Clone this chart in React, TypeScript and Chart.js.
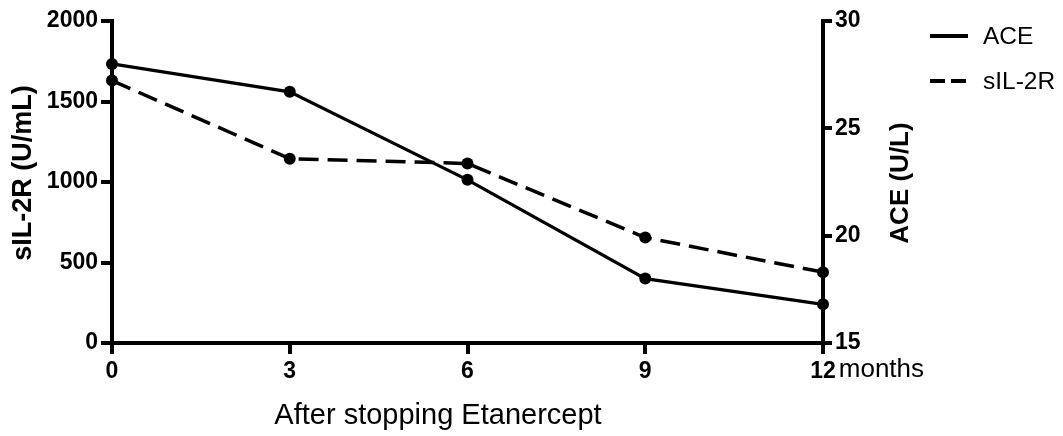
import { useEffect, useRef } from 'react';
import { Chart, registerables } from 'chart.js';

Chart.register(...registerables);

const months = [0, 3, 6, 9, 12];
const aceValues = [28.0, 26.7, 22.6, 18.0, 16.8];
const sil2rValues = [1630, 1145, 1115, 655, 440];
const seriesLabels = ['ACE', 'sIL-2R'];
const xTitle = 'After stopping Etanercept';
const leftTitle = 'sIL-2R (U/mL)';
const rightTitle = 'ACE (U/L)';
const lastTickSuffix = 'months';

const FONT = '"Liberation Sans", Arial, Helvetica, sans-serif';

const extrasPlugin = {
  id: 'extras',
  afterDraw(chart: any) {
    const ctx = chart.ctx;
    const xs = chart.scales.x;

    // axis titles
    ctx.save();
    ctx.fillStyle = '#000';
    ctx.textAlign = 'center';
    ctx.textBaseline = 'middle';
    ctx.font = `bold 26px ${FONT}`;
    ctx.save();
    ctx.translate(901, 183);
    ctx.rotate(-Math.PI / 2);
    ctx.fillText(rightTitle, 0, 0);
    ctx.restore();
    ctx.font = `bold 27px ${FONT}`;
    ctx.save();
    ctx.translate(24, 173);
    ctx.rotate(-Math.PI / 2);
    ctx.fillText(leftTitle, 0, 0);
    ctx.restore();
    ctx.font = `29px ${FONT}`;
    ctx.fillText(xTitle, 438, 416);
    ctx.restore();

    // suffix after the last x tick
    ctx.save();
    ctx.font = `bold 23px ${FONT}`;
    const lastPx = xs.getPixelForValue(months[months.length - 1]);
    const w = ctx.measureText(String(months[months.length - 1])).width;
    ctx.font = `26px ${FONT}`;
    ctx.fillStyle = '#000';
    ctx.textAlign = 'left';
    ctx.textBaseline = 'middle';
    ctx.fillText(lastTickSuffix, lastPx + w / 2 + 3, 370);
    ctx.restore();

    // legend
    ctx.save();
    const items = chart.data.datasets;
    items.forEach((ds: any, i: number) => {
      const y = 36 + i * 45;
      ctx.strokeStyle = '#000';
      ctx.lineWidth = 4;
      ctx.setLineDash(ds.borderDash && ds.borderDash.length ? [15, 6] : []);
      ctx.beginPath();
      ctx.moveTo(930, y);
      ctx.lineTo(968, y);
      ctx.stroke();
      ctx.setLineDash([]);
      ctx.font = `24.5px ${FONT}`;
      ctx.fillStyle = '#000';
      ctx.textAlign = 'left';
      ctx.textBaseline = 'middle';
      ctx.fillText(ds.label, 983, y + 1);
    });
    ctx.restore();
  },
};

export default function App() {
  const ref = useRef<HTMLCanvasElement | null>(null);

  useEffect(() => {
    document.body.style.margin = '0';
    const canvas = ref.current;
    if (!canvas) return;
    const axisGrid = {
      display: true,
      drawOnChartArea: false,
      drawTicks: true,
      tickLength: 11,
      lineWidth: 4,
      color: '#000',
    };
    const border = { display: true, color: '#000', width: 4 };
    const tickFont = { family: FONT, size: 23, weight: 'bold' as const };
    const plain = (v: any) => String(v);
    const chart = new Chart(canvas, {
      type: 'line',
      data: {
        datasets: [
          {
            label: seriesLabels[0],
            data: months.map((m, i) => ({ x: m, y: aceValues[i] })),
            yAxisID: 'y1',
            borderColor: '#000',
            backgroundColor: '#000',
            borderWidth: 3.3,
            pointRadius: 6,
            pointBackgroundColor: '#000',
            pointBorderWidth: 0,
            tension: 0,
            clip: false as any,
          },
          {
            label: seriesLabels[1],
            data: months.map((m, i) => ({ x: m, y: sil2rValues[i] })),
            yAxisID: 'y',
            borderColor: '#000',
            backgroundColor: '#000',
            borderWidth: 3.5,
            borderDash: [20, 9],
            pointRadius: 6,
            pointBackgroundColor: '#000',
            pointBorderWidth: 0,
            tension: 0,
            clip: false as any,
          },
        ],
      },
      options: {
        animation: false,
        responsive: false,
        maintainAspectRatio: false,
        layout: { padding: { top: 21, right: 149, bottom: 0, left: 0 } },
        plugins: {
          legend: { display: false },
          tooltip: { enabled: false },
        },
        scales: {
          x: {
            type: 'linear',
            position: 'bottom',
            min: 0,
            max: 12,
            ticks: {
              stepSize: 3,
              color: '#000',
              font: tickFont,
              padding: 4,
              maxRotation: 0,
              callback: plain,
            },
            grid: axisGrid,
            border,
            afterFit(scale: any) {
              scale.height = 93;
            },
          },
          y: {
            type: 'linear',
            position: 'left',
            min: 0,
            max: 2000,
            ticks: {
              stepSize: 500,
              color: '#000',
              font: tickFont,
              padding: 3,
              callback: plain,
            },
            grid: axisGrid,
            border,
            afterFit(scale: any) {
              scale.width = 112;
            },
          },
          y1: {
            type: 'linear',
            position: 'right',
            min: 15,
            max: 30,
            ticks: {
              stepSize: 5,
              color: '#000',
              font: tickFont,
              padding: 3,
              callback: plain,
            },
            grid: { ...axisGrid, tickLength: 9 },
            border,
            afterFit(scale: any) {
              scale.width = 91;
            },
          },
        },
      },
      plugins: [extrasPlugin],
    });
    return () => chart.destroy();
  }, []);

  return (
    <div style={{ width: 1063, height: 436 }}>
      <canvas ref={ref} width={1063} height={436} style={{ display: 'block' }} />
    </div>
  );
}
